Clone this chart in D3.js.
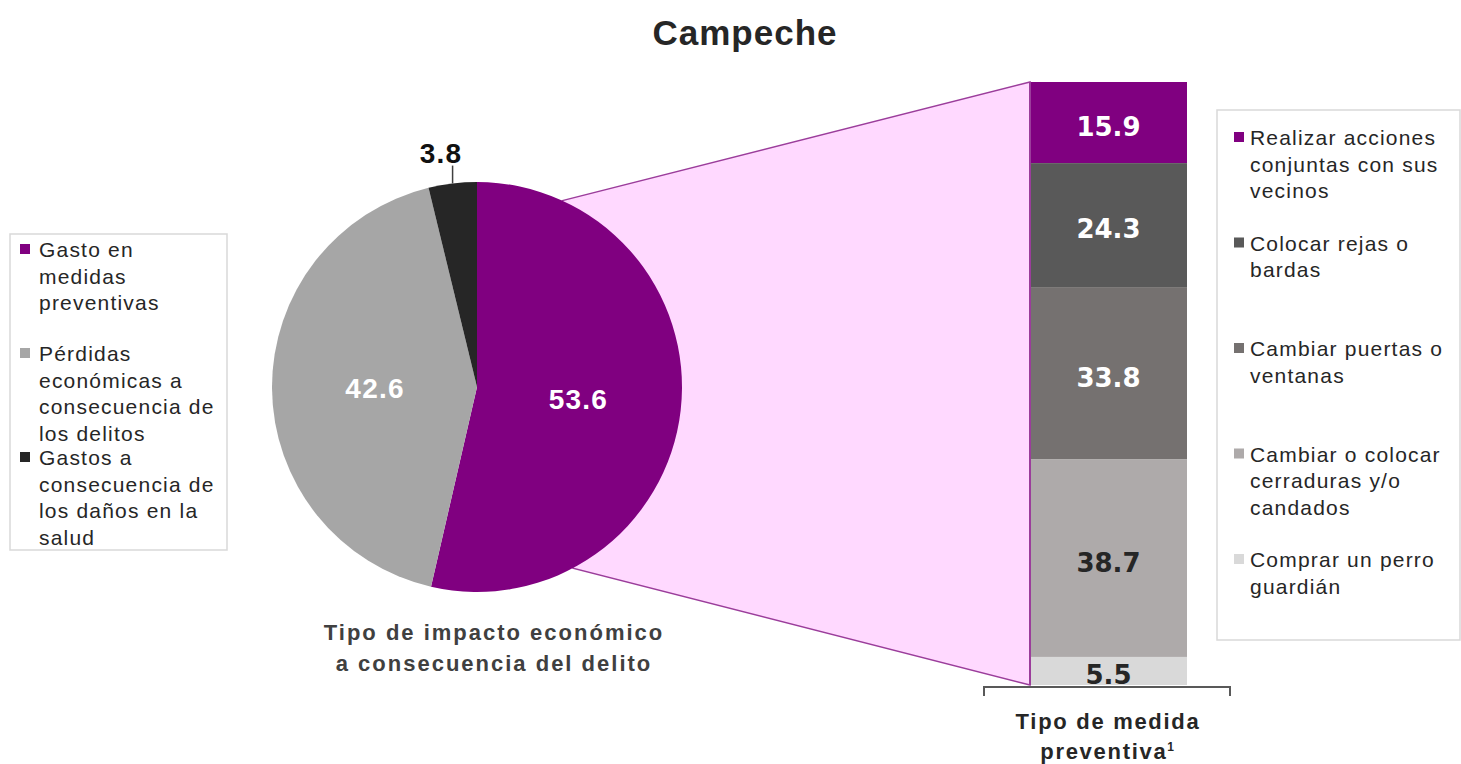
<!DOCTYPE html>
<html>
<head>
<meta charset="utf-8">
<script src="https://cdn.jsdelivr.net/npm/d3@7"></script>
<style>
  body { margin: 0; background: #fff; }
  svg { font-family: "Liberation Sans", Arial, sans-serif; }
</style>
</head>
<body>
<svg id="chart"></svg>
<script>
var screen = {width: 1461, height: 764}

// pie: tipo de impacto economico
var pieLabels = ["Gasto en medidas preventivas", "Pérdidas económicas a consecuencia de los delitos", "Gastos a consecuencia de los daños en la salud"]
var pieLegendLines = [["Gasto en", "medidas", "preventivas"], ["Pérdidas", "económicas a", "consecuencia de", "los delitos"], ["Gastos a", "consecuencia de", "los daños en la", "salud"]]
var pieValues = [53.6, 42.6, 3.8]
var pieColors = ["#800080", "#a6a6a6", "#262626"]
var pieTextColors = ["#fff", "#fff", "#111"]

// barra: tipo de medida preventiva
var barLabels = ["Realizar acciones conjuntas con sus vecinos", "Colocar rejas o bardas", "Cambiar puertas o ventanas", "Cambiar o colocar cerraduras y/o candados", "Comprar un perro guardián"]
var barLegendLines = [["Realizar acciones", "conjuntas con sus", "vecinos"], ["Colocar rejas o", "bardas"], ["Cambiar puertas o", "ventanas"], ["Cambiar o colocar", "cerraduras y/o", "candados"], ["Comprar un perro", "guardián"]]
var barValues = [15.9, 24.3, 33.8, 38.7, 5.5]
var barColors = ["#800080", "#595959", "#757170", "#aeaaaa", "#d9d9d9"]
var barTextColors = ["#fff", "#fff", "#fff", "#262626", "#262626"]

var svg = d3.select("#chart")
    .attr("width", screen.width)
    .attr("height", screen.height)

// title
svg.append("text")
    .attr("x", 745).attr("y", 45)
    .attr("text-anchor", "middle")
    .style("font-size", "35px").style("font-weight", "bold")
    .style("letter-spacing", "1px")
    .style("fill", "#262626")
    .text("Campeche")

var cx = 477, cy = 387, R = 205

var pie = d3.pie().sort(null).value(function(d){ return d })
var arcs = pie(pieValues)
var arc = d3.arc().innerRadius(0).outerRadius(R)
var labelArc = d3.arc().innerRadius(102).outerRadius(102)

// bar scale
var barX = 1030, barW = 157
var total = d3.sum(barValues)
var y = d3.scaleLinear().domain([0, total]).range([82, 685])
var stacked = []
var acc = 0
barValues.forEach(function(v, i){
    stacked.push({v: v, y0: acc, y1: acc + v, i: i})
    acc += v
})

// connector (pink zone) drawn behind the pie
var upA = 24.6 * Math.PI / 180, lowA = 152.1 * Math.PI / 180
var pUp = [cx + R * Math.sin(upA), cy - R * Math.cos(upA)]
var pLow = [cx + R * Math.sin(lowA), cy - R * Math.cos(lowA)]
svg.append("path")
    .attr("d", "M" + pUp + "L" + [barX, y(0)] + "L" + [barX, y(total)] + "L" + pLow + "Z")
    .style("fill", "#ffd9ff")
    .style("stroke", "#9b3d9b")
    .style("stroke-width", 1.5)

// pie
var g = svg.append("g").attr("transform", "translate(" + cx + "," + cy + ")")
g.selectAll("path.slice")
    .data(arcs)
    .enter().append("path")
    .attr("class", "slice")
    .attr("d", arc)
    .style("fill", function(d, i){ return pieColors[i] })

g.selectAll("text.lab")
    .data(arcs)
    .enter().append("text")
    .attr("class", "lab")
    .attr("transform", function(d, i){
        if (d.data < 10) {
            var a = (d.startAngle + d.endAngle) / 2
            return "translate(" + [(R + 31) * Math.sin(a) - 8, -(R + 31) * Math.cos(a)] + ")"
        }
        return "translate(" + labelArc.centroid(d) + ")"
    })
    .attr("dy", "0.36em")
    .attr("text-anchor", "middle")
    .style("font-size", "28px").style("font-weight", "bold")
    .style("letter-spacing", "1.2px")
    .style("fill", function(d, i){ return pieTextColors[i] })
    .text(function(d){ return d3.format(".1f")(d.data) })

// leader line for the small slice
arcs.filter(function(d){ return d.data < 10 }).forEach(function(d){
    var a = (d.startAngle + d.endAngle) / 2
    g.append("line")
        .attr("x1", R * Math.sin(a)).attr("y1", -R * Math.cos(a))
        .attr("x2", R * Math.sin(a)).attr("y2", -(R + 18) * Math.cos(a))
        .style("stroke", "#404040").style("stroke-width", 1.5)
})

// pie caption
var cap = svg.append("text")
    .attr("text-anchor", "middle")
    .style("font-size", "22px").style("font-weight", "bold")
    .style("letter-spacing", "2px")
    .style("fill", "#404040")
cap.append("tspan").attr("x", 494).attr("y", 640).text("Tipo de impacto económico")
cap.append("tspan").attr("x", 494).attr("y", 671).text("a consecuencia del delito")

// stacked bar
svg.selectAll("rect.seg")
    .data(stacked)
    .enter().append("rect")
    .attr("class", "seg")
    .attr("x", barX)
    .attr("y", function(d){ return y(d.y0) })
    .attr("width", barW)
    .attr("height", function(d){ return y(d.y1) - y(d.y0) })
    .style("fill", function(d){ return barColors[d.i] })

svg.append("line")
    .attr("x1", barX).attr("x2", barX)
    .attr("y1", y(0)).attr("y2", y(total))
    .style("stroke", "#9b3d9b").style("stroke-width", 2)

svg.selectAll("text.seglab")
    .data(stacked)
    .enter().append("text")
    .attr("class", "seglab")
    .attr("x", barX + barW / 2)
    .attr("y", function(d){ return (y(d.y0) + y(d.y1)) / 2 + 4 })
    .attr("dy", "0.36em")
    .attr("text-anchor", "middle")
    .style("font-family", "'DejaVu Sans', sans-serif")
    .style("font-size", "26px").style("font-weight", "bold")
    .style("fill", function(d){ return barTextColors[d.i] })
    .text(function(d){ return d3.format(".1f")(d.v) })

// bracket under the bar
var by = y(total) + 2
svg.append("path")
    .attr("d", "M984," + (by + 9) + "V" + by + "H1230V" + (by + 9))
    .style("fill", "none").style("stroke", "#595959").style("stroke-width", 2)

var cap2 = svg.append("text")
    .attr("text-anchor", "middle")
    .style("font-size", "22px").style("font-weight", "bold")
    .style("letter-spacing", "1.7px")
    .style("fill", "#262626")
cap2.append("tspan").attr("x", 1108).attr("y", 729).text("Tipo de medida")
var t2 = cap2.append("tspan").attr("x", 1108).attr("y", 759).text("preventiva")
t2.append("tspan").attr("dy", -8).style("font-size", "12px").text("1")

// legends
var drawLegend = function(box, lines, colors, start, step){
    svg.append("rect")
        .attr("x", box.x).attr("y", box.y)
        .attr("width", box.w).attr("height", box.h)
        .style("fill", "#fff").style("stroke", "#d9d9d9").style("stroke-width", 1.5)
    var items = svg.append("g").selectAll("g")
        .data(lines)
        .enter().append("g")
        .attr("transform", function(d, i){ return "translate(0," + (start + i * step) + ")" })
    items.append("rect")
        .attr("x", box.mx).attr("y", -13)
        .attr("width", 10).attr("height", 10)
        .style("fill", function(d, i){ return colors[i] })
    items.append("text")
        .style("font-size", "21px")
        .style("letter-spacing", "1.2px")
        .style("fill", "#262626")
        .selectAll("tspan")
        .data(function(d){ return d })
        .enter().append("tspan")
        .attr("x", box.tx)
        .attr("y", function(d, j){ return j * 26.5 })
        .text(function(d){ return d })
}

drawLegend({x: 10, y: 234, w: 217, h: 316, mx: 20, tx: 39}, pieLegendLines, pieColors, 257, 104)
drawLegend({x: 1217, y: 110, w: 243, h: 530, mx: 1234, tx: 1250}, barLegendLines, barColors, 145, 105.5)
</script>
</body>
</html>
